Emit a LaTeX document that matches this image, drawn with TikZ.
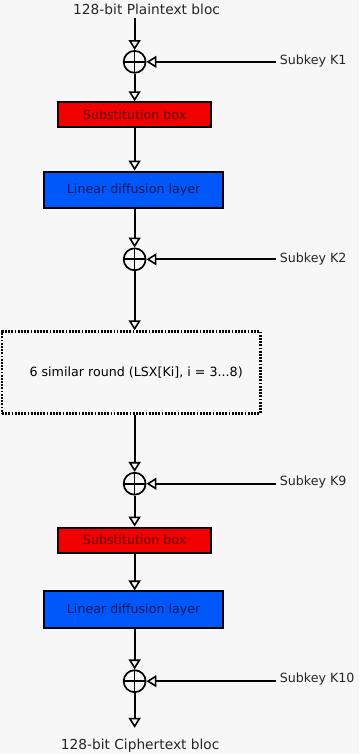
\documentclass[tikz,border=0pt]{standalone}
\usepackage{fontspec}
\setmainfont{DejaVu Sans}
\usetikzlibrary{arrows.meta, positioning}
\definecolor{bggray}{RGB}{247,247,247}
\definecolor{sboxred}{RGB}{242,0,0}
\definecolor{sboxtext}{RGB}{95,0,0}
\definecolor{ldlblue}{RGB}{0,88,250}
\definecolor{ldltext}{RGB}{10,25,90}

\begin{document}
\begin{tikzpicture}[
                x=1pt, y=-1pt,
                font=\fontsize{12.7}{15}\selectfont,
                flow/.style={line width=2pt, -{Triangle[open, length=10pt, width=12pt, line width=1.6pt]}},
                xor/.style={circle, draw, line width=1.7pt, minimum size=22pt, inner sep=0pt,
                    path picture={\draw[line width=1.7pt] (path picture bounding box.north) -- (path picture bounding box.south)
                        (path picture bounding box.west) -- (path picture bounding box.east);}},
                sbox/.style={rectangle, draw=black, fill=sboxred, line width=2pt, minimum width=154pt, minimum height=25pt, text=sboxtext},
                ldl/.style={rectangle, draw=black, fill=ldlblue, line width=2pt, minimum width=180pt, minimum height=37pt, text=ldltext},
                rounds/.style={rectangle, draw=black, line width=2.6pt, dash pattern=on 1.8pt off 1.4pt, minimum width=259pt, minimum height=82pt},
                keylabel/.style={anchor=west, text=black!85},
                endlabel/.style={font=\fontsize{13.8}{16}\selectfont, text=black!85}
            ]
                \fill[bggray] (0,0) rectangle (360,756);

                \node [endlabel] (plain) at (147,9) {128-bit Plaintext bloc};
                \node [xor] (xor1) at (135,62) {};
                \node [keylabel] (key1) at (277,61) {Subkey K1};
                \node [sbox] (sbox1) at (135,115) {Substitution box};
                \node [ldl] (ldl1) at (134,190.5) {Linear diffusion layer};
                \node [xor] (xor2) at (135,260) {};
                \node [keylabel] (key2) at (277,260) {Subkey K2};
                \node [rounds] (rounds) at (131.5,373.5) {\hspace{10pt}6 similar round (LSX[Ki], i = 3...8)};
                \node [xor] (xor3) at (135,485) {};
                \node [keylabel] (key9) at (277,483) {Subkey K9};
                \node [sbox] (sbox2) at (135,541.5) {Substitution box};
                \node [ldl] (ldl2) at (134,611.5) {Linear diffusion layer};
                \node [xor] (xor4) at (135,683) {};
                \node [keylabel] (key10) at (277,681) {Subkey K10};
                \node [endlabel] (cipher) at (140.5,748) {128-bit Ciphertext bloc};

                % first round
                \draw[flow] (plain.south -| xor1) -- (xor1);
                \draw[flow] (xor1.east -| key1.west) -- (xor1.east);
                \draw[flow] (xor1) -- (sbox1);
                \draw[flow] (sbox1) -- (sbox1 |- ldl1.north);
                \draw[flow] (ldl1.south -| xor2) -- (xor2);
                \draw[flow] (xor2.east -| key2.west) -- (xor2.east);
                \draw[flow] (xor2) -- (xor2 |- rounds.north);
                % last round
                \draw[flow] (xor3 |- rounds.south) -- (xor3);
                \draw[flow] (xor3.east -| key9.west) -- (xor3.east);
                \draw[flow] (xor3) -- (sbox2);
                \draw[flow] (sbox2) -- (sbox2 |- ldl2.north);
                \draw[flow] (ldl2.south -| xor4) -- (xor4);
                \draw[flow] (xor4.east -| key10.west) -- (xor4.east);
                \draw[flow, shorten >=8pt] (xor4) -- (xor4 |- cipher.north);
            \end{tikzpicture}
\end{document}
